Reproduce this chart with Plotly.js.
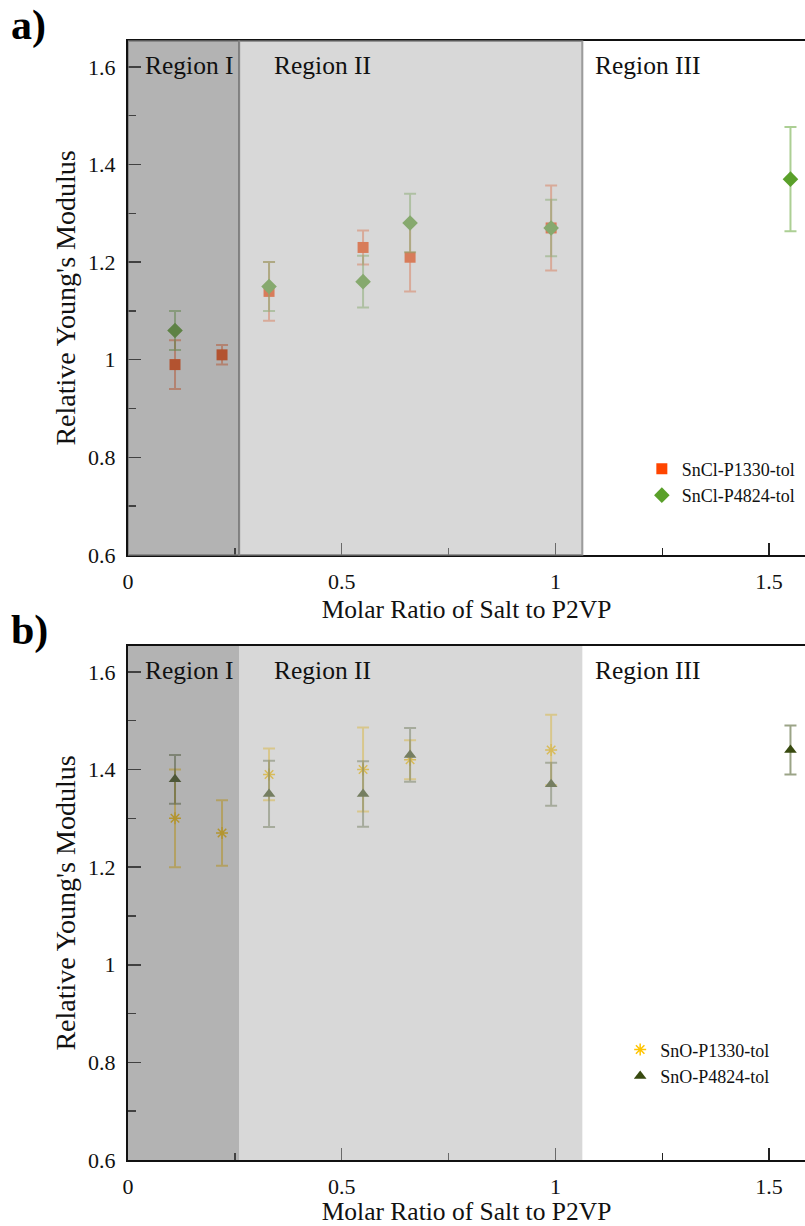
<!DOCTYPE html>
<html>
<head>
<meta charset="utf-8">
<script src="https://cdn.plot.ly/plotly-3.0.1.min.js"></script>
<style>
  html, body { margin: 0; padding: 0; background: #ffffff; }
  #chart { width: 805px; height: 1226px; }
</style>
</head>
<body>
<div id="chart"></div>
<script>
// Molar ratio of salt to P2VP
const ratioAll = [0.11, 0.22, 0.33, 0.55, 0.66, 0.99];
const ratioP4824 = [0.11, 0.33, 0.55, 0.66, 0.99, 1.55];

// Panel a) SnCl
const snclP1330 = [0.99, 1.01, 1.14, 1.23, 1.21, 1.27];
const snclP1330Err = [0.05, 0.02, 0.06, 0.035, 0.07, 0.087];
const snclP4824 = [1.06, 1.15, 1.16, 1.28, 1.27, 1.37];
const snclP4824Err = [0.04, 0.05, 0.053, 0.06, 0.058, 0.107];

// Panel b) SnO
const snoP1330 = [1.30, 1.27, 1.39, 1.40, 1.42, 1.44];
const snoP1330Err = [0.10, 0.067, 0.053, 0.086, 0.04, 0.072];
const snoP4824 = [1.38, 1.35, 1.35, 1.43, 1.37, 1.44];
const snoP4824Err = [0.05, 0.068, 0.067, 0.055, 0.044, 0.05];

// Region boundaries along the ratio axis
const regionEdges = [0, 0.26, 1.063];
const regionLabels = ['Region I', 'Region II', 'Region III'];
const regionLabelX = [0.145, 0.456, 1.216];

const FONT = '"Liberation Serif", serif';

function errBar(vals, color) {
  return { type: 'data', array: vals, visible: true, color: color, thickness: 2, width: 6 };
}

const traces = [
  {
    x: ratioAll, y: snclP1330, name: 'SnCl-P1330-tol', type: 'scatter', mode: 'markers',
    xaxis: 'x', yaxis: 'y', legend: 'legend',
    marker: { symbol: 'square', size: 11, color: '#ff4500' },
    error_y: errBar(snclP1330Err, 'rgba(255,69,0,0.5)')
  },
  {
    x: ratioP4824, y: snclP4824, name: 'SnCl-P4824-tol', type: 'scatter', mode: 'markers',
    xaxis: 'x', yaxis: 'y', legend: 'legend',
    marker: { symbol: 'diamond', size: 12, color: '#5aa02a' },
    error_y: errBar(snclP4824Err, 'rgba(90,160,42,0.5)')
  },
  {
    x: ratioAll, y: snoP1330, name: 'SnO-P1330-tol', type: 'scatter', mode: 'markers',
    xaxis: 'x2', yaxis: 'y2', legend: 'legend2',
    marker: { symbol: 'asterisk-open', size: 10, color: '#ffc400', line: { color: '#ffc400', width: 1.5 } },
    error_y: errBar(snoP1330Err, 'rgba(255,196,0,0.6)')
  },
  {
    x: ratioP4824, y: snoP4824, name: 'SnO-P4824-tol', type: 'scatter', mode: 'markers',
    xaxis: 'x2', yaxis: 'y2', legend: 'legend2',
    marker: { symbol: 'triangle-up', size: 11, color: '#384a10' },
    error_y: errBar(snoP4824Err, 'rgba(56,74,16,0.5)')
  }
];

function xAxis(anchor) {
  return {
    anchor: anchor, range: [0, 1.584], tickmode: 'linear', tick0: 0, dtick: 0.5,
    ticks: 'inside', ticklen: 12, tickwidth: 1.5, tickcolor: '#222',
    minor: { dtick: 0.25, ticks: 'inside', ticklen: 7, tickwidth: 1.5, tickcolor: '#222' },
    showline: true, linewidth: 2, linecolor: '#111', mirror: true,
    showgrid: false, zeroline: false, ticklabelstandoff: 6,
    tickfont: { family: FONT, size: 22, color: '#111' },
    title: { text: 'Molar Ratio of Salt to P2VP', font: { family: FONT, size: 25.5, color: '#111' }, standoff: 7 }
  };
}
function yAxis(anchor, domain) {
  return {
    anchor: anchor, domain: domain, range: [0.6, 1.653], tickmode: 'linear', tick0: 0.6, dtick: 0.2,
    ticks: 'inside', ticklen: 13, tickwidth: 1.5, tickcolor: '#222',
    minor: { dtick: 0.1, ticks: 'inside', ticklen: 8, tickwidth: 1.5, tickcolor: '#222' },
    showline: true, linewidth: 2, linecolor: '#111', mirror: false,
    showgrid: false, zeroline: false, ticklabelstandoff: 6,
    tickfont: { family: FONT, size: 22, color: '#111' },
    title: { text: "Relative Young's Modulus", font: { family: FONT, size: 28, color: '#111' }, standoff: 4 }
  };
}

// Shaded regions sit above the data as translucent gray veils
const shapes = [];
const annotations = [];
[['x', 'y', true], ['x2', 'y2', false]].forEach(([xr, yr, bordered]) => {
  const fills = ['rgba(99,99,99,0.486)', 'rgba(178,178,178,0.506)'];
  for (let i = 0; i < 2; i++) {
    shapes.push({
      type: 'rect', layer: 'above', xref: xr, yref: yr + ' domain',
      x0: regionEdges[i], x1: regionEdges[i + 1], y0: 0, y1: 1,
      fillcolor: fills[i],
      line: bordered ? { color: 'rgba(120,120,120,0.7)', width: 2 } : { width: 0 }
    });
  }
  regionLabels.forEach((t, i) => {
    annotations.push({
      xref: xr, yref: yr + ' domain', x: regionLabelX[i], y: 0.953,
      text: t, showarrow: false, xanchor: 'center', yanchor: 'middle',
      font: { family: FONT, size: 25.5, color: '#111' }
    });
  });
});

annotations.push({
  xref: 'paper', yref: 'paper', x: -0.176, y: 1.037, xanchor: 'left', yanchor: 'top',
  text: '<b>a)</b>', showarrow: false, font: { family: FONT, size: 42, color: '#000' }
});
annotations.push({
  xref: 'paper', yref: 'paper', x: -0.176, y: 0.496, xanchor: 'left', yanchor: 'top',
  text: '<b>b)</b>', showarrow: false, font: { family: FONT, size: 42, color: '#000' }
});

const legendStyle = {
  font: { family: FONT, size: 18, color: '#111' },
  bgcolor: 'rgba(0,0,0,0)', borderwidth: 0, xanchor: 'left', yanchor: 'top', itemwidth: 30
};

const layout = {
  width: 805, height: 1226,
  margin: { l: 128, r: 0, t: 41, b: 66 },
  paper_bgcolor: '#ffffff', plot_bgcolor: '#ffffff',
  font: { family: FONT, color: '#111' },
  xaxis: xAxis('y'),
  yaxis: yAxis('x', [0.5407, 1]),
  xaxis2: xAxis('y2'),
  yaxis2: yAxis('x2', [0, 0.4593]),
  legend: Object.assign({ x: 0.759, y: 0.634 }, legendStyle),
  legend2: Object.assign({ x: 0.727, y: 0.115 }, legendStyle),
  shapes: shapes,
  annotations: annotations
};

Plotly.newPlot('chart', traces, layout, { displayModeBar: false, staticPlot: true });
</script>
</body>
</html>
